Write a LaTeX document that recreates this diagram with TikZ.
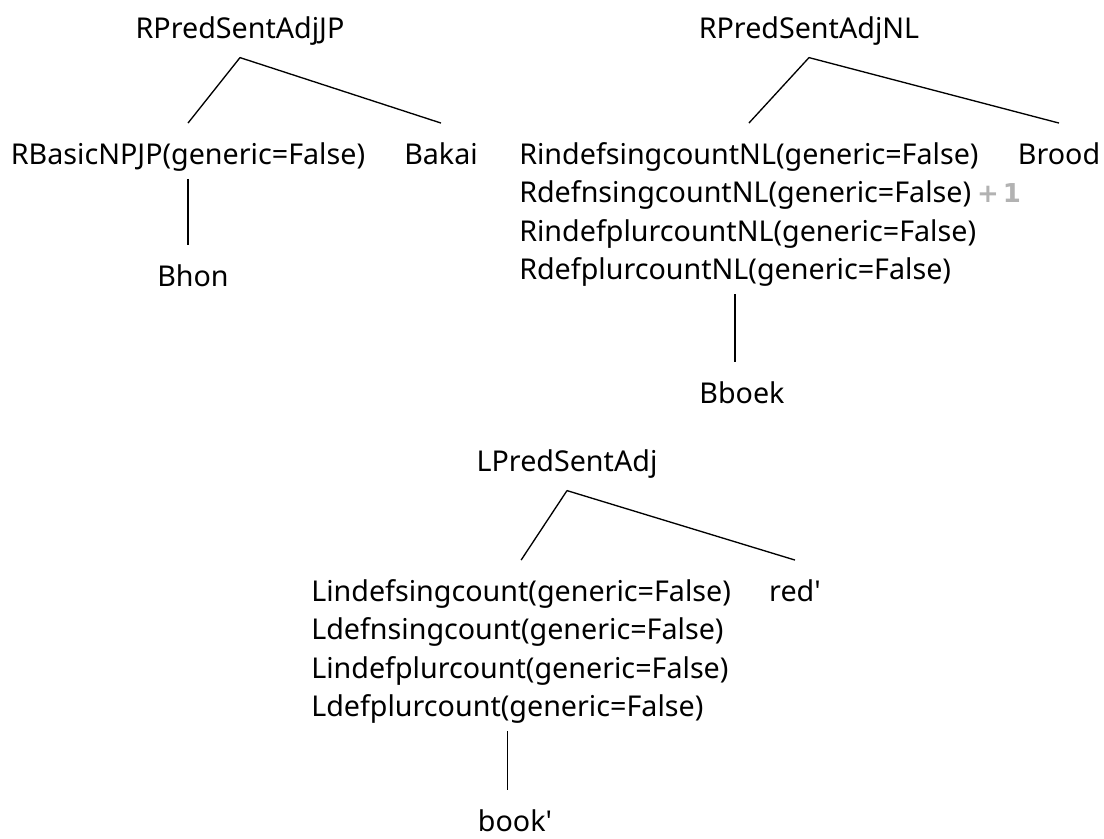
\documentclass[tikz,border=0pt]{standalone}
\usepackage{fontspec}
\setmainfont{Noto Sans}[Ligatures=TeXOff]
\newfontfamily\markfont{DejaVu Sans}
\usetikzlibrary{positioning}

\begin{document}
\begin{tikzpicture}
 [x=0.75pt, y=-0.75pt,
  tree node/.style={inner sep=0pt, anchor=base, text height=30.5pt, text depth=11pt, font=\fontsize{21.5}{26}\selectfont},
  root node/.style={tree node, text depth=14.5pt},
  leaf node/.style={tree node, text depth=0pt},
  line node/.style={tree node, anchor=base west},
  mark node/.style={inner sep=0pt, anchor=base west, text=black!30, font=\markfont\fontsize{19.5}{23}\selectfont\bfseries},
  branch/.style={line width=1pt}]

\useasboundingbox (0,0) rectangle (1104,839);

% JP tree
\node[root node] (jp) at (240,38) {RPredSentAdjJP};
\node[tree node] (jpnp) at (188,164) {RBasicNPJP(generic=False)};
\node[leaf node] (bakai) at (441,164) {Bakai};
\node[leaf node] (bhon) at (193,286) {Bhon};

% NL tree
\node[root node] (nl) at (809,38) {RPredSentAdjNL};
\node[line node] (rindefsg) at (519,164) {RindefsingcountNL(generic=False)};
\node[line node, below=29pt of rindefsg.base west, anchor=base west] (rdefsg) {RdefnsingcountNL(generic=False)};
\node[line node, below=29pt of rdefsg.base west, anchor=base west] (rindefpl) {RindefplurcountNL(generic=False)};
\node[line node, below=28.5pt of rindefpl.base west, anchor=base west] (rdefpl) {RdefplurcountNL(generic=False)};
\node[mark node, right=4pt of rdefsg.base east, anchor=base west] (plusone) {+\kern3pt1};
\node[leaf node] (brood) at (1059,164) {Brood};
\node[leaf node] (bboek) at (742,403) {Bboek};

% L tree
\node[root node] (lp) at (567,471) {LPredSentAdj};
\node[line node] (lindefsg) at (311,601) {Lindefsingcount(generic=False)};
\node[line node, below=29pt of lindefsg.base west, anchor=base west] (ldefsg) {Ldefnsingcount(generic=False)};
\node[line node, below=29pt of ldefsg.base west, anchor=base west] (lindefpl) {Lindefplurcount(generic=False)};
\node[line node, below=28.5pt of lindefpl.base west, anchor=base west] (ldefpl) {Ldefplurcount(generic=False)};
\node[leaf node] (redp) at (795,601) {red'};
\node[leaf node] (bookp) at (515,831) {book'};

\path[branch]
  (jp.south) edge (jpnp.north)
  (jp.south) edge (bakai.north)
  (jpnp.south) edge (jpnp.south |- bhon.north)

  (nl.south) edge (rindefsg.north)
  (nl.south) edge (brood.north)
  (rdefpl.south) edge (rdefpl.south |- bboek.north)

  (lp.south) edge (lindefsg.north)
  (lp.south) edge (redp.north)
  (ldefpl.south) edge (ldefpl.south |- bookp.north);

\end{tikzpicture}
\end{document}
